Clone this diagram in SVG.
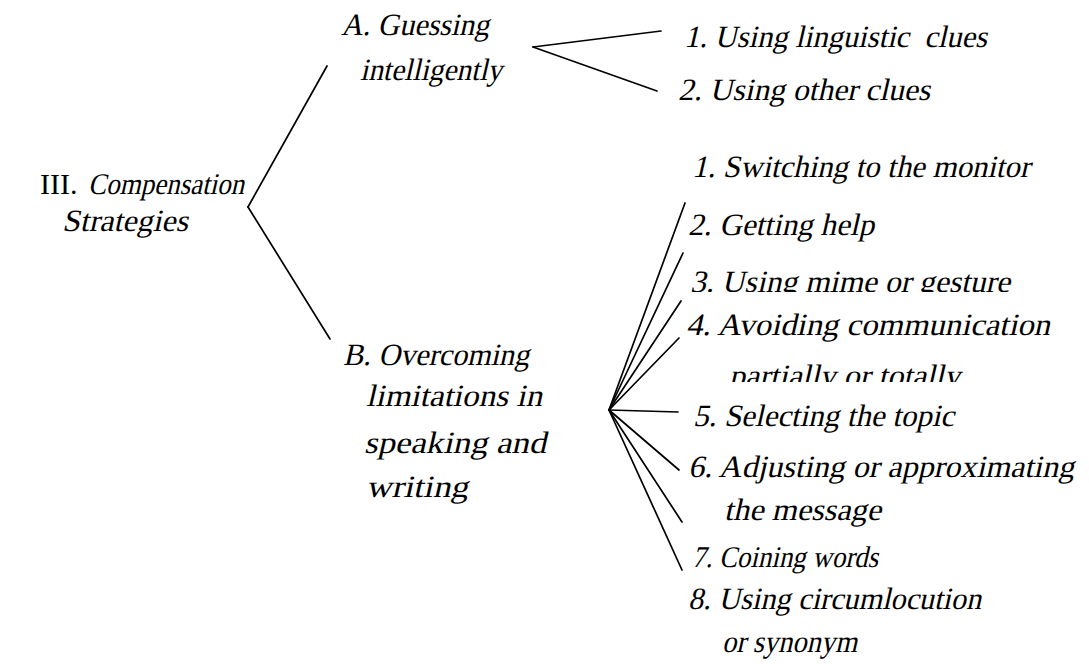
<svg xmlns="http://www.w3.org/2000/svg" width="1089" height="664" viewBox="0 0 1089 664">
<style>
text{font-family:"Liberation Serif","Times New Roman",serif;font-size:31px;font-style:normal;fill:#000}
line{stroke:#000;stroke-width:1.7;stroke-linecap:round}
</style>
<defs>
<clipPath id="c3"><rect x="0" y="0" width="1089" height="292"/></clipPath>
<clipPath id="c4"><rect x="0" y="0" width="1089" height="382"/></clipPath>
</defs>
<rect width="1089" height="664" fill="#fff"/>
<g id="connectors">
<line x1="248" y1="207" x2="327" y2="66"/>
<line x1="248" y1="207" x2="330" y2="339"/>
<line x1="533" y1="47" x2="661" y2="31"/>
<line x1="533" y1="47" x2="657" y2="91"/>
<line x1="609" y1="410" x2="685" y2="203"/>
<line x1="609" y1="410" x2="683" y2="253"/>
<line x1="609" y1="410" x2="681" y2="301"/>
<line x1="609" y1="410" x2="679" y2="338"/>
<line x1="609" y1="410" x2="678" y2="412"/>
<line x1="609" y1="410" x2="679" y2="470"/>
<line x1="609" y1="410" x2="682" y2="522"/>
<line x1="609" y1="410" x2="682" y2="570"/>
</g>
<g id="root"><text x="40" y="194" style="font-size:30px">III.</text><text transform="translate(88 194) skewX(-13)" style="font-size:30px" textLength="156" lengthAdjust="spacingAndGlyphs">Compensation</text><text transform="translate(62 231) skewX(-13)" textLength="126" lengthAdjust="spacingAndGlyphs">Strategies</text></g>
<g id="nodeA"><text transform="translate(341 35) skewX(-13)" textLength="148" lengthAdjust="spacingAndGlyphs">A. Guessing</text><text transform="translate(360 80) skewX(-13)" textLength="142" lengthAdjust="spacingAndGlyphs">intelligently</text></g>
<g id="A1"><text transform="translate(684 47) skewX(-13)" xml:space="preserve" textLength="303" lengthAdjust="spacingAndGlyphs">1. Using linguistic  clues</text></g>
<g id="A2"><text transform="translate(678 100) skewX(-13)" textLength="252" lengthAdjust="spacingAndGlyphs">2. Using other clues</text></g>
<g id="nodeB"><text transform="translate(343 365) skewX(-13)" textLength="186" lengthAdjust="spacingAndGlyphs">B. Overcoming</text><text transform="translate(366 406) skewX(-13)" textLength="176" lengthAdjust="spacingAndGlyphs">limitations in</text><text transform="translate(364 453) skewX(-13)" textLength="182" lengthAdjust="spacingAndGlyphs">speaking and</text><text transform="translate(366 497) skewX(-13)" textLength="102" lengthAdjust="spacingAndGlyphs">writing</text></g>
<g id="B1"><text transform="translate(692 177) skewX(-13)" textLength="338" lengthAdjust="spacingAndGlyphs">1. Switching to the monitor</text></g>
<g id="B2"><text transform="translate(688 235) skewX(-13)" textLength="186" lengthAdjust="spacingAndGlyphs">2. Getting help</text></g>
<g id="B3" clip-path="url(#c3)"><text transform="translate(690 292) skewX(-13)" textLength="320" lengthAdjust="spacingAndGlyphs">3. Using mime or gesture</text></g>
<g id="B4"><text transform="translate(686 335) skewX(-13)" textLength="364" lengthAdjust="spacingAndGlyphs">4. Avoiding communication</text><g clip-path="url(#c4)"><text transform="translate(729 386) skewX(-13)" textLength="231" lengthAdjust="spacingAndGlyphs">partially or totally</text></g></g>
<g id="B5"><text transform="translate(693 426) skewX(-13)" textLength="261" lengthAdjust="spacingAndGlyphs">5. Selecting the topic</text></g>
<g id="B6"><text transform="translate(688 477) skewX(-13)" textLength="386" lengthAdjust="spacingAndGlyphs">6. Adjusting or approximating</text><text transform="translate(724 520) skewX(-13)" textLength="157" lengthAdjust="spacingAndGlyphs">the message</text></g>
<g id="B7"><text transform="translate(692 567) skewX(-13)" style="font-size:30px" textLength="186" lengthAdjust="spacingAndGlyphs">7. Coining words</text></g>
<g id="B8"><text transform="translate(688 609) skewX(-13)" textLength="293" lengthAdjust="spacingAndGlyphs">8. Using circumlocution</text><text transform="translate(722 652) skewX(-13)" textLength="135" lengthAdjust="spacingAndGlyphs">or synonym</text></g>
</svg>
